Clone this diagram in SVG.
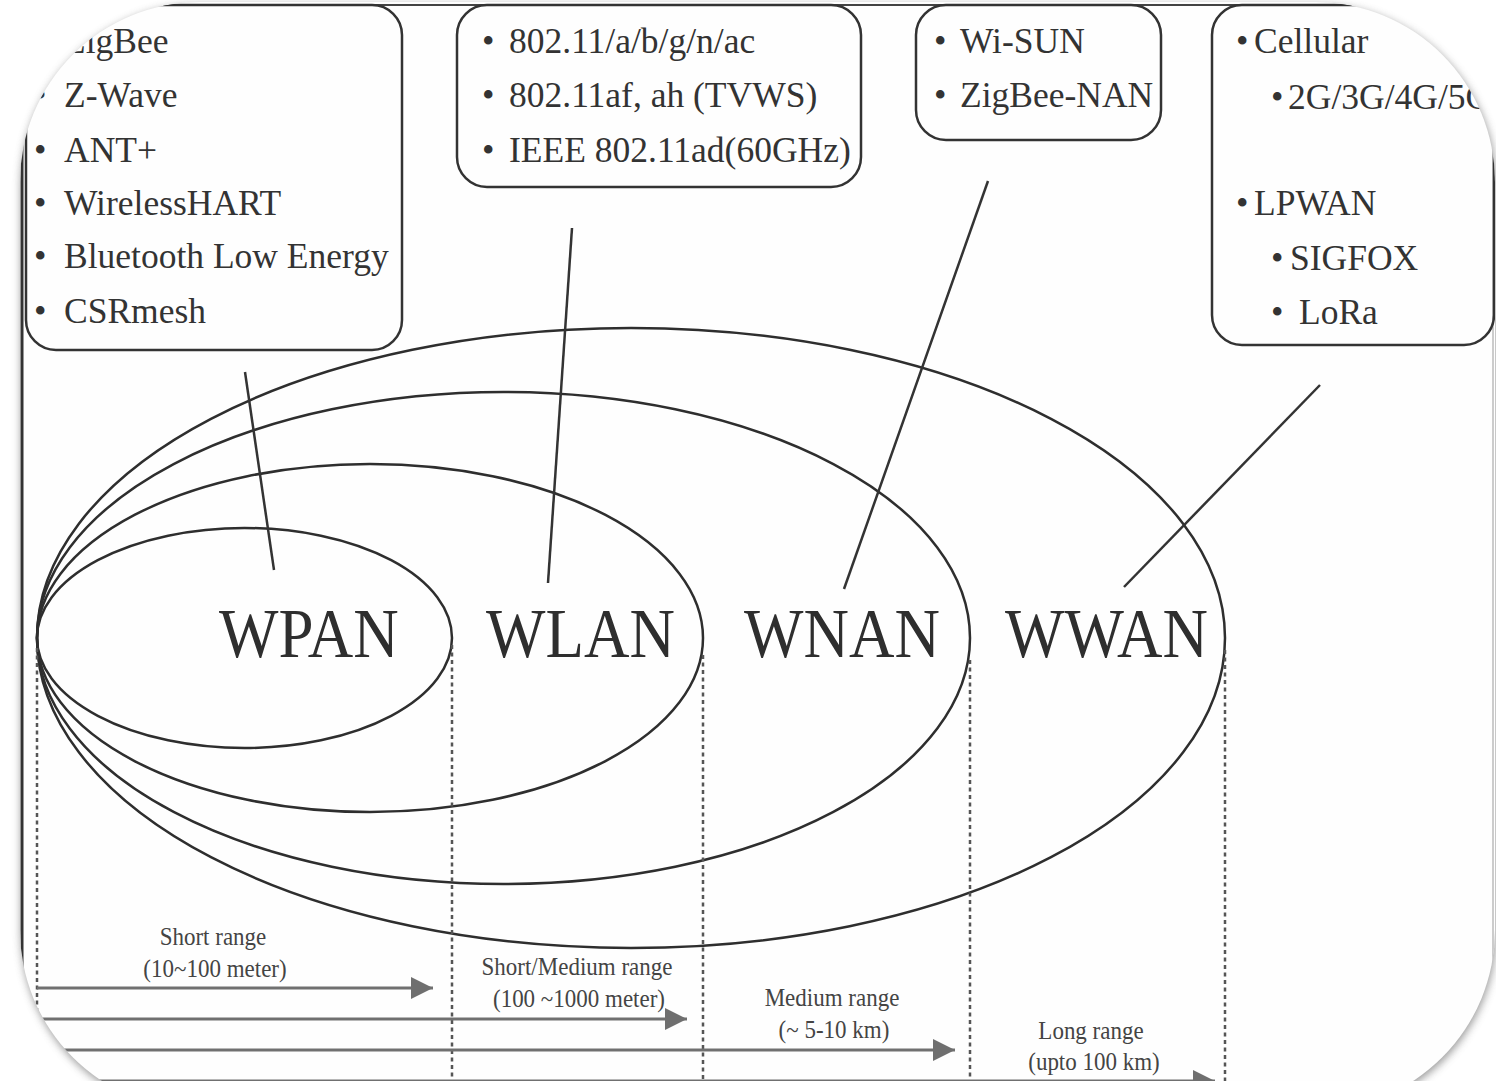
<svg xmlns="http://www.w3.org/2000/svg" width="1496" height="1081" viewBox="0 0 1496 1081">
<defs>
  <clipPath id="frame">
    <rect x="20" y="2" width="1475" height="1108" rx="180" ry="180"/>
  </clipPath>
  <filter id="shadow" x="-5%" y="-5%" width="110%" height="110%">
    <feGaussianBlur stdDeviation="4"/>
  </filter>
  <marker id="arr" markerUnits="userSpaceOnUse" markerWidth="24" markerHeight="24" refX="22" refY="11" orient="auto">
    <path d="M0,0 L22,11 L0,22 Z" fill="#6f6f6f"/>
  </marker>
  <style>
    .box { fill: none; stroke: #333; stroke-width: 2.5; }
    .t { font-family: "Liberation Serif", "Times New Roman", serif; font-size: 35.5px; fill: #333; }
    .big { font-family: "Liberation Serif", "Times New Roman", serif; font-size: 63px; fill: #2e2e2e; }
    .sm { font-family: "Liberation Serif", "Times New Roman", serif; font-size: 23px; fill: #444; text-anchor: middle; }
    .ell { fill: none; stroke: #2e2e2e; stroke-width: 2.5; }
    .conn { stroke: #333; stroke-width: 2.5; fill: none; }
    .dot { stroke: #555; stroke-width: 2.5; stroke-dasharray: 4 3.5; fill: none; }
    .rng { stroke: #707070; stroke-width: 3; fill: none; }
  </style>
</defs>
<rect x="0" y="0" width="1496" height="1081" fill="#ffffff"/>
<rect x="21" y="5" width="1475" height="1108" rx="180" ry="180" fill="#777" opacity="0.75" filter="url(#shadow)"/>
<g clip-path="url(#frame)">
  <rect x="0" y="0" width="1496" height="1081" fill="#fefefe"/>
  <!-- image border -->
  <line x1="22" y1="0" x2="22" y2="1081" stroke="#333" stroke-width="3"/>
  <line x1="0" y1="5" x2="1496" y2="5" stroke="#444" stroke-width="2"/>
  <line x1="1493" y1="0" x2="1493" y2="1081" stroke="#bbb" stroke-width="1.5"/>

  <g id="ellipses">
    <ellipse id="ell-wwan" class="ell" cx="631" cy="638" rx="594" ry="310"/>
    <ellipse id="ell-wnan" class="ell" cx="503.5" cy="638" rx="466.5" ry="246"/>
    <ellipse id="ell-wlan" class="ell" cx="370" cy="638" rx="333" ry="174"/>
    <ellipse id="ell-wpan" class="ell" cx="244.5" cy="638" rx="207.5" ry="110"/>
  </g>

  <g id="range-lines">
    <line class="dot" x1="37" y1="648" x2="37" y2="1081"/>
    <line class="dot" x1="452" y1="645" x2="452" y2="1081"/>
    <line class="dot" x1="703" y1="655" x2="703" y2="1081"/>
    <line class="dot" x1="970" y1="660" x2="970" y2="1081"/>
    <line class="dot" x1="1225" y1="650" x2="1225" y2="1081"/>
  </g>

  <g id="box-wpan">
    <rect class="box" x="26" y="5" width="376" height="345" rx="30" ry="30"/>
    <text class="t"><tspan x="34" y="53">•</tspan><tspan x="64" y="53">ZigBee</tspan></text>
    <text class="t"><tspan x="34" y="107">•</tspan><tspan x="64" y="107">Z-Wave</tspan></text>
    <text class="t"><tspan x="34" y="162">•</tspan><tspan x="64" y="162">ANT+</tspan></text>
    <text class="t"><tspan x="34" y="215">•</tspan><tspan x="64" y="215">WirelessHART</tspan></text>
    <text class="t"><tspan x="34" y="268">•</tspan><tspan x="64" y="268">Bluetooth Low Energy</tspan></text>
    <text class="t"><tspan x="34" y="323">•</tspan><tspan x="64" y="323">CSRmesh</tspan></text>
  </g>

  <g id="box-wlan">
    <rect class="box" x="457" y="5" width="404" height="182" rx="30" ry="30"/>
    <text class="t"><tspan x="482" y="53">•</tspan><tspan x="509" y="53">802.11/a/b/g/n/ac</tspan></text>
    <text class="t"><tspan x="482" y="107">•</tspan><tspan x="509" y="107">802.11af, ah (TVWS)</tspan></text>
    <text class="t"><tspan x="482" y="162">•</tspan><tspan x="509" y="162">IEEE 802.11ad(60GHz)</tspan></text>
  </g>

  <g id="box-wnan">
    <rect class="box" x="916" y="5" width="245" height="135" rx="30" ry="30"/>
    <text class="t"><tspan x="934" y="53">•</tspan><tspan x="960" y="53">Wi-SUN</tspan></text>
    <text class="t"><tspan x="934" y="107">•</tspan><tspan x="960" y="107">ZigBee-NAN</tspan></text>
  </g>

  <g id="box-wwan">
    <rect class="box" x="1212" y="5" width="282" height="340" rx="30" ry="30"/>
    <text class="t"><tspan x="1236" y="53">•</tspan><tspan x="1254" y="53">Cellular</tspan></text>
    <text class="t"><tspan x="1271" y="109">•</tspan><tspan x="1288" y="109">2G/3G/4G/5G</tspan></text>
    <text class="t"><tspan x="1236" y="215">•</tspan><tspan x="1254" y="215">LPWAN</tspan></text>
    <text class="t"><tspan x="1271" y="270">•</tspan><tspan x="1290" y="270">SIGFOX</tspan></text>
    <text class="t"><tspan x="1271" y="324">•</tspan><tspan x="1299" y="324">LoRa</tspan></text>
  </g>

  <g id="labels">
    <text id="lbl-wpan" class="big" transform="translate(219,657) scale(1,1.12)">WPAN</text>
    <text id="lbl-wlan" class="big" transform="translate(486,657) scale(1,1.12)">WLAN</text>
    <text id="lbl-wnan" class="big" transform="translate(744,657) scale(1,1.12)">WNAN</text>
    <text id="lbl-wwan" class="big" transform="translate(1005,657) scale(1,1.12)">WWAN</text>
  </g>

  <g id="connectors">
    <line class="conn" x1="245" y1="372" x2="274" y2="570"/>
    <line class="conn" x1="572" y1="228" x2="548" y2="583"/>
    <line class="conn" x1="988" y1="181" x2="844" y2="589"/>
    <line class="conn" x1="1320" y1="385" x2="1124" y2="587"/>
  </g>

  <g id="ranges">
    <line class="rng" x1="37" y1="988" x2="433" y2="988" marker-end="url(#arr)"/>
    <line class="rng" x1="37" y1="1019" x2="687" y2="1019" marker-end="url(#arr)"/>
    <line class="rng" x1="37" y1="1050" x2="955" y2="1050" marker-end="url(#arr)"/>
    <line class="rng" x1="37" y1="1081" x2="1215" y2="1081" marker-end="url(#arr)"/>
    <text class="sm" transform="translate(213,945) scale(1,1.12)">Short range</text>
    <text class="sm" transform="translate(215,977) scale(1,1.12)">(10~100 meter)</text>
    <text class="sm" transform="translate(577,975) scale(1,1.12)">Short/Medium range</text>
    <text class="sm" transform="translate(579,1007) scale(1,1.12)">(100 ~1000 meter)</text>
    <text class="sm" transform="translate(832,1006) scale(1,1.12)">Medium range</text>
    <text class="sm" transform="translate(834,1038) scale(1,1.12)">(~ 5-10 km)</text>
    <text class="sm" transform="translate(1091,1039) scale(1,1.12)">Long range</text>
    <text class="sm" transform="translate(1094,1070) scale(1,1.12)">(upto 100 km)</text>
  </g>
</g>
</svg>
